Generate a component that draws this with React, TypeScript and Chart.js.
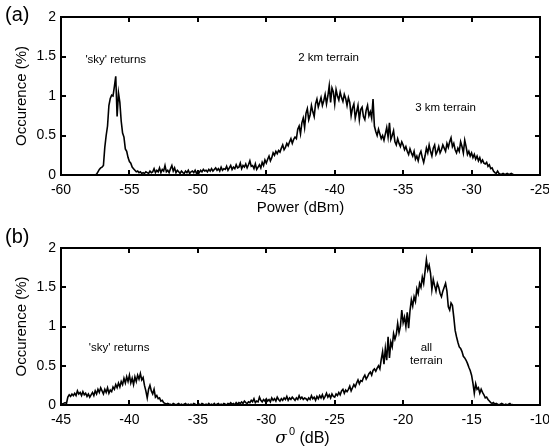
import React, { useEffect, useRef } from "react";
import { Chart, registerables } from "chart.js";

Chart.register(...registerables);

// ---------- data ----------
const binStep = 0.1;

// (a) received power histogram, bins start at -58.0 dBm
const powerStart = -58.0;
const powerOccurrence = [
  0, 0, 0, 0, 0, 0, 0.01, 0.04, 0.07, 0.09,
  0.1, 0.12, 0.35, 0.5, 0.62, 0.88, 0.97, 1.01, 1.0, 1.12,
  1.25, 0.74, 1.04, 0.92, 0.68, 0.53, 0.48, 0.33, 0.3, 0.22,
  0.17, 0.15, 0.1, 0.08, 0.06, 0.04, 0.05, 0.03, 0.04, 0.02,
  0.03, 0.02, 0.04, 0.03, 0.02, 0.05, 0.03, 0.04, 0.08, 0.03,
  0.06, 0.04, 0.09, 0.03, 0.07, 0.05, 0.12, 0.04, 0.06, 0.03,
  0.08, 0.12, 0.05, 0.09, 0.03, 0.06, 0.04, 0.02, 0.05, 0.03,
  0.02, 0.05, 0.03, 0.06, 0.02, 0.04, 0.05, 0.03, 0.06, 0.02,
  0.05, 0.03, 0.06, 0.04, 0.07, 0.05, 0.06, 0.04, 0.07, 0.05,
  0.08, 0.05, 0.07, 0.09, 0.06, 0.08, 0.05, 0.1, 0.06, 0.08,
  0.07, 0.11, 0.06, 0.09, 0.12, 0.07, 0.1, 0.08, 0.13, 0.09,
  0.1, 0.15, 0.08, 0.12, 0.1, 0.14, 0.09, 0.13, 0.18, 0.11,
  0.12, 0.08, 0.14, 0.07, 0.1, 0.13, 0.09, 0.16, 0.12, 0.19,
  0.15, 0.2, 0.24, 0.18, 0.22, 0.28, 0.25, 0.3, 0.27, 0.31,
  0.29, 0.34, 0.38, 0.32, 0.35, 0.4, 0.37, 0.42, 0.46, 0.4,
  0.45, 0.48, 0.46, 0.58, 0.62, 0.52, 0.66, 0.72, 0.6, 0.78,
  0.84, 0.7, 0.76, 0.88, 0.8, 0.74, 0.9, 0.96, 0.86, 0.92,
  0.98, 0.88, 0.94, 1.02, 0.9, 1.0, 1.13, 0.92, 1.1, 1.05,
  0.9, 1.08, 1.0, 0.95, 1.05, 0.98, 0.93, 1.02, 0.97, 0.88,
  0.98, 0.92, 0.75, 0.85, 0.9, 0.72, 0.8, 0.88, 0.7, 0.83,
  0.86, 0.74, 0.7, 0.82, 0.88, 0.75, 0.8, 0.72, 0.96, 0.62,
  0.55, 0.5, 0.58, 0.52, 0.46, 0.5, 0.44, 0.52, 0.6, 0.48,
  0.66, 0.45, 0.5, 0.56, 0.42, 0.38, 0.46, 0.4, 0.36, 0.42,
  0.38, 0.32, 0.36, 0.3, 0.26, 0.33, 0.28, 0.24, 0.3, 0.2,
  0.24, 0.18, 0.26, 0.3, 0.22, 0.16, 0.24, 0.34, 0.28, 0.38,
  0.3, 0.24, 0.34, 0.38, 0.26, 0.3, 0.36, 0.28, 0.32, 0.38,
  0.34, 0.3, 0.4, 0.35, 0.42, 0.47, 0.36, 0.4, 0.32, 0.28,
  0.34, 0.3, 0.42, 0.36, 0.28, 0.44, 0.36, 0.26, 0.3, 0.24,
  0.28, 0.22, 0.26, 0.2, 0.24, 0.18, 0.22, 0.16, 0.19, 0.15,
  0.14, 0.16, 0.11, 0.13, 0.08, 0.09, 0.05, 0.03, 0.02, 0.05,
  0.02, 0.01, 0.01, 0.02, 0.01, 0.01, 0.02, 0.01, 0.01, 0.02,
  0.01, 0,
];

// (b) sigma0 histogram, bins start at -45.0 dB
const sigmaStart = -45.0;
const sigmaOccurrence = [
  0.02, 0.01, 0.02, 0.03, 0.02, 0.1, 0.13, 0.11, 0.14, 0.12,
  0.15, 0.12, 0.18, 0.14, 0.16, 0.12, 0.17, 0.13, 0.15, 0.11,
  0.14, 0.1, 0.13, 0.16, 0.12, 0.18, 0.14, 0.2, 0.16, 0.22,
  0.18, 0.14, 0.2, 0.16, 0.22, 0.15, 0.19, 0.17, 0.23, 0.2,
  0.26, 0.22, 0.28, 0.23, 0.3, 0.26, 0.34, 0.28, 0.36, 0.3,
  0.38, 0.28, 0.34, 0.26, 0.36, 0.3, 0.38, 0.33, 0.4, 0.32,
  0.35, 0.25, 0.18, 0.09, 0.2, 0.25, 0.18, 0.14, 0.2, 0.1,
  0.12, 0.08, 0.09, 0.05, 0.06, 0.03, 0.02, 0.01, 0.02, 0.01,
  0.01, 0.0, 0.02, 0.01, 0.0, 0.01, 0.02, 0.0, 0.01, 0.0,
  0.01, 0.02, 0.0, 0.01, 0.0, 0.01, 0.0, 0.02, 0.01, 0.0,
  0.0, 0.01, 0.0, 0.02, 0.01, 0.0, 0.01, 0.0, 0.02, 0.0,
  0.01, 0.0, 0.02, 0.0, 0.01, 0.02, 0.0, 0.01, 0.0, 0.02,
  0.01, 0.0, 0.02, 0.01, 0.03, 0.01, 0.02, 0.0, 0.03, 0.01,
  0.03, 0.02, 0.04, 0.02, 0.05, 0.03, 0.02, 0.04, 0.03, 0.06,
  0.04, 0.08, 0.03, 0.05, 0.04, 0.1, 0.06, 0.04, 0.07, 0.05,
  0.08, 0.05, 0.07, 0.04, 0.09, 0.06, 0.08, 0.05, 0.1, 0.07,
  0.05, 0.08, 0.06, 0.09, 0.07, 0.11, 0.06, 0.09, 0.07, 0.1,
  0.08, 0.06, 0.09, 0.07, 0.12, 0.08, 0.1, 0.07, 0.09, 0.08,
  0.06, 0.09, 0.07, 0.12, 0.08, 0.1, 0.06, 0.11, 0.08, 0.12,
  0.09, 0.13, 0.08, 0.11, 0.15, 0.1, 0.13, 0.09, 0.14, 0.11,
  0.1, 0.14, 0.12, 0.16, 0.13, 0.18, 0.2, 0.15, 0.19, 0.17,
  0.2, 0.24, 0.18, 0.22, 0.26, 0.23, 0.28, 0.32, 0.27, 0.31,
  0.3, 0.35, 0.38, 0.33, 0.36, 0.4, 0.42, 0.38, 0.44, 0.46,
  0.43, 0.47, 0.5, 0.46, 0.58, 0.68, 0.52, 0.72, 0.57, 0.87,
  0.6, 0.8, 0.74, 0.91, 0.84, 0.9, 1.04, 0.92, 1.0, 1.21,
  1.05, 1.12, 1.0, 1.18, 0.98, 1.2, 1.34, 1.26, 1.38, 1.32,
  1.48, 1.42, 1.55, 1.5, 1.63, 1.55, 1.7, 1.85, 1.72, 1.78,
  1.68, 1.47, 1.6, 1.52, 1.45, 1.55, 1.5, 1.42, 1.38, 1.45,
  1.5, 1.55, 1.45, 1.25, 1.21, 1.3, 1.27, 1.12, 0.95, 0.87,
  0.8, 0.74, 0.72, 0.68, 0.62, 0.6, 0.57, 0.53, 0.48, 0.44,
  0.38, 0.28, 0.15, 0.27, 0.2, 0.22, 0.15, 0.2, 0.16, 0.13,
  0.09, 0.1, 0.07, 0.05, 0.03, 0.02, 0.03, 0.01, 0.02, 0.01,
  0.0, 0.01, 0.02, 0.01, 0.0, 0.01, 0.0, 0.01, 0.02, 0.0,
  0.01,
];

const yTickStep = 0.5;
const xTickStep = 5;

const powerNotes = [
  { text: "'sky' returns", x: -56.0, y: 1.46 },
  { text: "2 km terrain", x: -40.45, y: 1.48 },
  { text: "3 km terrain", x: -31.9, y: 0.85 },
];
const sigmaNotes = [
  { text: "'sky' returns", x: -40.75, y: 0.73 },
  { text: "all", x: -18.3, y: 0.73 },
  { text: "terrain", x: -18.3, y: 0.56 },
];

const FONT = "Arial, 'Liberation Sans', Helvetica, sans-serif";

const framePlugin = {
  id: "frame",
  afterDraw(chart: any, _args: any, opts: any) {
    const { ctx, chartArea: a, scales } = chart;
    const xs = scales.x;
    const ys = scales.y;
    ctx.save();
    ctx.strokeStyle = "#000";
    ctx.lineWidth = 2;
    ctx.strokeRect(a.left, a.top, a.right - a.left, a.bottom - a.top);
    const tl = 5;
    ctx.beginPath();
    xs.ticks.forEach((t: any) => {
      const px = Math.round(xs.getPixelForValue(t.value));
      ctx.moveTo(px, a.bottom);
      ctx.lineTo(px, a.bottom - tl);
      ctx.moveTo(px, a.top);
      ctx.lineTo(px, a.top + tl);
    });
    ys.ticks.forEach((t: any) => {
      const py = Math.round(ys.getPixelForValue(t.value));
      ctx.moveTo(a.left, py);
      ctx.lineTo(a.left + tl, py);
      ctx.moveTo(a.right, py);
      ctx.lineTo(a.right - tl, py);
    });
    ctx.stroke();

    ctx.fillStyle = "#000";
    ctx.font = `11.5px ${FONT}`;
    ctx.textAlign = "center";
    ctx.textBaseline = "middle";
    (opts.notes || []).forEach((n: any) => {
      ctx.fillText(n.text, xs.getPixelForValue(n.x), ys.getPixelForValue(n.y));
    });

    ctx.font = `20px ${FONT}`;
    ctx.textAlign = "left";
    ctx.fillText(opts.label, 5, opts.labelY);

    if (opts.sigmaTitle) {
      // "σ⁰ (dB)" with italic sigma and superscript zero
      const base = opts.sigmaBaseline;
      const sFont = `italic 17px 'DejaVu Serif', 'Liberation Serif', serif`;
      const zFont = `11px ${FONT}`;
      const dFont = `16px ${FONT}`;
      ctx.textAlign = "left";
      ctx.textBaseline = "alphabetic";
      ctx.font = sFont;
      const wS = ctx.measureText("σ").width;
      ctx.font = zFont;
      const wZ = ctx.measureText("0").width;
      ctx.font = dFont;
      const wD = ctx.measureText(" (dB)").width;
      const total = wS + 2 + wZ + wD;
      let x0 = (a.left + a.right) / 2 + 2 - total / 2;
      ctx.font = sFont;
      ctx.fillText("σ", x0, base);
      x0 += wS + 2;
      ctx.font = zFont;
      ctx.fillText("0", x0, base - 8);
      x0 += wZ;
      ctx.font = dFont;
      ctx.fillText(" (dB)", x0, base);
    }
    ctx.restore();
  },
};

type PanelProps = {
  start: number;
  values: number[];
  xMin: number;
  xMax: number;
  xTitle: string;
  sigmaTitle: boolean;
  label: string;
  labelY: number;
  notes: { text: string; x: number; y: number }[];
  top: number;
  height: number;
  padTop: number;
  plotBottom: number;
  titlePad: number;
};

function Panel(p: PanelProps) {
  const ref = useRef<HTMLCanvasElement | null>(null);
  useEffect(() => {
    const canvas = ref.current;
    if (!canvas) return;
    const points = p.values.map((v, i) => ({
      x: +(p.start + i * binStep).toFixed(2),
      y: v,
    }));
    const chart = new Chart(canvas, {
      type: "line",
      data: {
        datasets: [
          {
            data: points,
            borderColor: "#000",
            borderWidth: 1.6,
            pointRadius: 0,
            tension: 0,
            fill: false,
          },
        ],
      },
      options: {
        animation: false,
        responsive: false,
        devicePixelRatio: 1,
        layout: { padding: { left: 0, right: 9, top: p.padTop, bottom: 0 } },
        plugins: {
          legend: { display: false },
          tooltip: { enabled: false },
          frame: {
            notes: p.notes,
            label: p.label,
            labelY: p.labelY,
            sigmaTitle: p.sigmaTitle,
            sigmaBaseline: p.height - 4,
          },
        } as any,
        scales: {
          x: {
            type: "linear",
            min: p.xMin,
            max: p.xMax,
            grid: { display: false, drawTicks: false },
            border: { display: false },
            ticks: {
              stepSize: xTickStep,
              color: "#000",
              padding: 7,
              maxRotation: 0,
              font: { family: FONT, size: 14 },
            },
            title: {
              display: !p.sigmaTitle,
              text: p.xTitle,
              color: "#000",
              padding: { top: 0, bottom: p.titlePad },
              font: { family: FONT, size: 15 },
            },
            afterFit(scale: any) {
              scale.height = p.height - p.plotBottom;
              scale.paddingLeft = 0;
              scale.paddingRight = 0;
            },
          },
          y: {
            min: 0,
            max: 2,
            grid: { display: false, drawTicks: false },
            border: { display: false },
            ticks: {
              stepSize: yTickStep,
              color: "#000",
              padding: 5,
              font: { family: FONT, size: 14 },
              callback: (v: any) => `${Number(v)}`,
            },
            title: {
              display: true,
              text: "Occurence (%)",
              color: "#000",
              padding: { top: 13, bottom: 0 },
              font: { family: FONT, size: 15 },
            },
            afterFit(scale: any) {
              scale.width = 61;
              scale.paddingTop = 0;
              scale.paddingBottom = 0;
            },
          },
        },
      },
      plugins: [framePlugin as any],
    });
    return () => chart.destroy();
  }, []);
  return (
    <canvas
      ref={ref}
      width={549}
      height={p.height}
      style={{ position: "absolute", left: 0, top: p.top, display: "block" }}
    />
  );
}

export default function App() {
  return (
    <div
      style={{
        position: "absolute",
        left: 0,
        top: 0,
        width: 549,
        height: 447,
        background: "#fff",
      }}
    >
      <Panel
        start={powerStart}
        values={powerOccurrence}
        xMin={-60}
        xMax={-25}
        xTitle="Power (dBm)"
        sigmaTitle={false}
        label="(a)"
        labelY={15}
        notes={powerNotes}
        top={0}
        height={222}
        padTop={17}
        plotBottom={175}
        titlePad={5}
      />
      <Panel
        start={sigmaStart}
        values={sigmaOccurrence}
        xMin={-45}
        xMax={-10}
        xTitle="σ⁰ (dB)"
        sigmaTitle={true}
        label="(b)"
        labelY={15}
        notes={sigmaNotes}
        top={222}
        height={225}
        padTop={26}
        plotBottom={183}
        titlePad={1}
      />
    </div>
  );
}
